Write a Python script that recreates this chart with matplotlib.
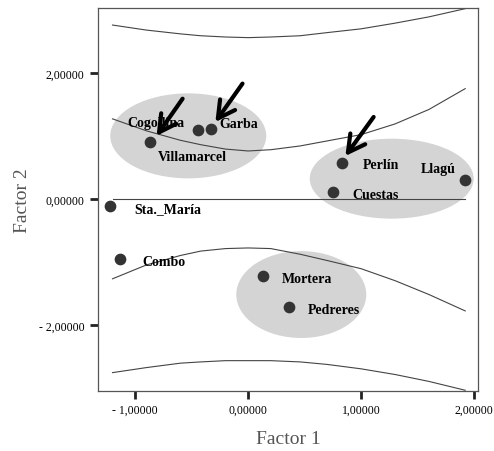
import numpy as np
import matplotlib.pyplot as plt
from matplotlib.patches import Ellipse

# points (factor scores)
names = ["Villamarcel", "Cogollina", "Garba", "Sta._María", "Combo",
         "Perlín", "Llagú", "Cuestas", "Mortera", "Pedreres"]
f1 = [-0.87, -0.44, -0.33, -1.22, -1.13, 0.83, 1.92, 0.75, 0.13, 0.36]
f2 = [0.90, 1.10, 1.11, -0.11, -0.95, 0.57, 0.30, 0.11, -1.22, -1.72]

# confidence band curves
band_x = [-1.20, -0.90, -0.60, -0.42, -0.20, 0.00, 0.20, 0.46, 0.70, 1.00, 1.30, 1.60, 1.92]
upper_outer = [2.76, 2.68, 2.62, 2.59, 2.57, 2.56, 2.57, 2.59, 2.64, 2.70, 2.79, 2.89, 3.02]
upper_inner = [1.27, 1.08, 0.93, 0.86, 0.79, 0.76, 0.78, 0.84, 0.92, 1.02, 1.19, 1.42, 1.75]
lower_inner = [-1.27, -1.05, -0.90, -0.83, -0.79, -0.78, -0.79, -0.88, -0.98, -1.11, -1.30, -1.52, -1.78]
lower_outer = [-2.76, -2.68, -2.61, -2.59, -2.57, -2.57, -2.57, -2.59, -2.63, -2.70, -2.79, -2.90, -3.04]

# group ellipses: center x, center y, width, height
ell_x = [-0.53, 1.27, 0.47]
ell_y = [1.00, 0.32, -1.52]
ell_w = [1.38, 1.45, 1.15]
ell_h = [1.35, 1.27, 1.38]

# arrows: tail -> head
arr_tail = [(-0.58, 1.59), (-0.05, 1.83), (1.11, 1.30)]
arr_head = [(-0.81, 1.00), (-0.29, 1.22), (0.86, 0.68)]

# label offsets in points (left edge, vertical center)
lab_off = [(6, -10), (-51, 5), (6, 4), (17, -2), (16, -2),
           (15, -1), (-32, 8), (14, -2), (14, -2), (14, -2)]

fig = plt.figure(figsize=(4.94, 4.52), dpi=100)
ax = fig.add_axes([0.198, 0.133, 0.770, 0.847])

for cx, cy, w, h in zip(ell_x, ell_y, ell_w, ell_h):
    ax.add_patch(Ellipse((cx, cy), w, h, facecolor="#d4d4d4", edgecolor="none", zorder=1))

for yy in [upper_outer, upper_inner, lower_inner, lower_outer]:
    ax.plot(band_x, yy, color="#444444", lw=0.8, zorder=2)
ax.plot([-1.2, 1.92], [0, 0], color="#444444", lw=0.8, zorder=2)

ax.scatter(f1, f2, s=55, color="#333333", zorder=3)

for name, x, y, off in zip(names, f1, f2, lab_off):
    ax.annotate(name, (x, y), xytext=off, textcoords="offset points",
                ha="left", va="center", fontsize=10, fontweight="bold",
                family="Liberation Serif", zorder=4)

for t, h in zip(arr_tail, arr_head):
    ax.annotate("", xy=h, xytext=t,
                arrowprops=dict(arrowstyle="->,head_length=0.55,head_width=0.3",
                                lw=3, color="black",
                                mutation_scale=22, shrinkA=0, shrinkB=0),
                zorder=5)

ax.set_xlim(-1.33, 2.035)
ax.set_ylim(-3.05, 3.03)
ax.set_xticks([-1, 0, 1, 2])
ax.set_xticklabels(["- 1,00000", "0,00000", "1,00000", "2,00000"])
ax.set_yticks([-2, 0, 2])
ax.set_yticklabels(["- 2,00000", "0,00000", "2,00000"])
for lab in ax.get_xticklabels() + ax.get_yticklabels():
    lab.set_family("Liberation Serif")
    lab.set_fontsize(8.5)
ax.tick_params(direction="out", length=6, width=2, color="#222222", top=False, right=False)
for sp in ax.spines.values():
    sp.set_color("#555555")
    sp.set_linewidth(0.9)

ax.set_xlabel("Factor 1", family="Liberation Serif", fontsize=14, color="#555555", labelpad=10)
ax.set_ylabel("Factor 2", family="Liberation Serif", fontsize=14, color="#555555", labelpad=6)

fig.savefig("out.png", dpi=100)
